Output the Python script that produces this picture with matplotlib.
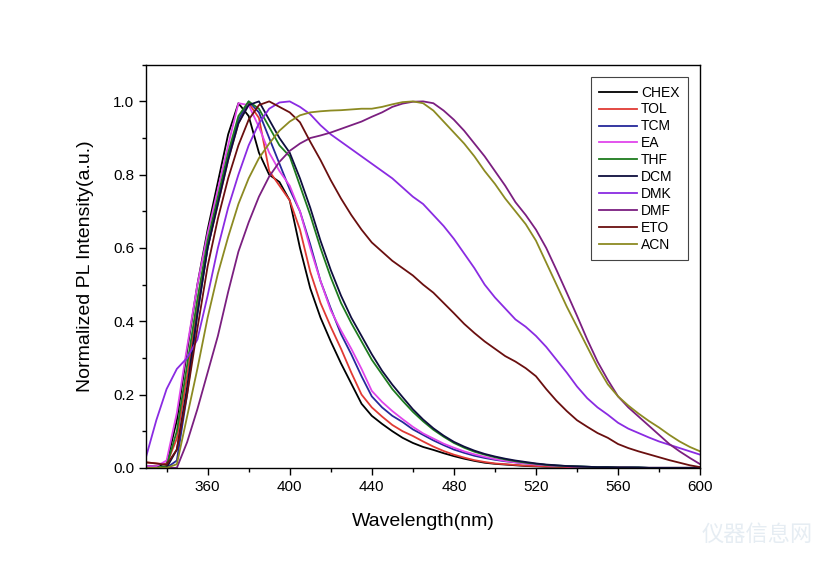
import numpy as np
import matplotlib.pyplot as plt
from matplotlib.ticker import MultipleLocator

# wavelength grid (nm), 5 nm steps
wavelength = list(range(330, 601, 5))

# normalized PL spectra, one list per solvent
chex = [0.005, 0.004, 0.012, 0.13, 0.32, 0.50, 0.65, 0.78, 0.91, 0.995, 0.96,
        0.86, 0.80, 0.78, 0.73, 0.60, 0.49, 0.41, 0.345, 0.285, 0.23, 0.175,
        0.142, 0.12, 0.10, 0.082, 0.068, 0.057, 0.049, 0.04, 0.032, 0.025, 0.019,
        0.014, 0.011, 0.009, 0.007, 0.005, 0.004, 0.003, 0.003, 0.002, 0.002, 0.001,
        0.001, 0.001, 0.001, 0.001, 0.0, 0.0, 0.0, 0.0, 0.0, 0.0, 0.0]
tol = [0.015, 0.012, 0.01, 0.08, 0.25, 0.44, 0.60, 0.72, 0.84, 0.94, 0.995,
       0.955, 0.81, 0.77, 0.73, 0.65, 0.535, 0.45, 0.385, 0.325, 0.26, 0.20,
       0.165, 0.14, 0.117, 0.10, 0.087, 0.072, 0.058, 0.046, 0.036, 0.028, 0.021,
       0.016, 0.012, 0.01, 0.008, 0.006, 0.005, 0.004, 0.003, 0.002, 0.002, 0.001,
       0.001, 0.001, 0.001, 0.0, 0.0, 0.0, 0.0, 0.0, 0.0, 0.0, 0.0]
tcm = [0.0, 0.0, 0.0, 0.02, 0.2, 0.42, 0.6, 0.73, 0.85, 0.95, 1.0,
       0.97, 0.9, 0.83, 0.76, 0.70, 0.61, 0.51, 0.435, 0.365, 0.31, 0.25,
       0.195, 0.165, 0.142, 0.125, 0.105, 0.09, 0.075, 0.062, 0.05, 0.041, 0.033,
       0.027, 0.022, 0.018, 0.015, 0.012, 0.01, 0.008, 0.006, 0.005, 0.004, 0.003,
       0.002, 0.002, 0.001, 0.001, 0.001, 0.0, 0.0, 0.0, 0.0, 0.0, 0.0]
ea = [0.005, 0.004, 0.02, 0.15, 0.33, 0.5, 0.64, 0.76, 0.88, 0.995, 0.99,
      0.93, 0.86, 0.81, 0.77, 0.70, 0.60, 0.51, 0.43, 0.375, 0.325, 0.27,
      0.21, 0.18, 0.155, 0.133, 0.112, 0.094, 0.08, 0.066, 0.055, 0.045, 0.037,
      0.03, 0.024, 0.019, 0.015, 0.012, 0.009, 0.007, 0.005, 0.004, 0.003, 0.002,
      0.002, 0.001, 0.001, 0.001, 0.0, 0.0, 0.0, 0.0, 0.0, 0.0, 0.0]
thf = [0.0, 0.0, 0.005, 0.1, 0.28, 0.46, 0.62, 0.74, 0.86, 0.96, 1.0,
       0.98, 0.93, 0.88, 0.85, 0.77, 0.69, 0.60, 0.52, 0.45, 0.395, 0.345,
       0.295, 0.255, 0.215, 0.183, 0.153, 0.127, 0.104, 0.085, 0.068, 0.055, 0.044,
       0.036, 0.029, 0.023, 0.018, 0.014, 0.011, 0.008, 0.006, 0.005, 0.004, 0.003,
       0.002, 0.002, 0.001, 0.001, 0.001, 0.0, 0.0, 0.0, 0.0, 0.0, 0.0]
dcm = [0.0, 0.0, 0.0, 0.05, 0.22, 0.42, 0.6, 0.72, 0.84, 0.94, 0.99,
       1.0, 0.95, 0.9, 0.86, 0.79, 0.71, 0.62, 0.54, 0.47, 0.41, 0.36,
       0.31, 0.265, 0.227, 0.193, 0.16, 0.132, 0.108, 0.088, 0.071, 0.058, 0.047,
       0.038, 0.031, 0.025, 0.02, 0.016, 0.012, 0.009, 0.007, 0.005, 0.004, 0.003,
       0.002, 0.002, 0.001, 0.001, 0.001, 0.0, 0.0, 0.0, 0.0, 0.0, 0.0]
dmk = [0.03, 0.13, 0.215, 0.27, 0.30, 0.35, 0.47, 0.60, 0.71, 0.80, 0.88,
       0.94, 0.98, 0.997, 1.0, 0.985, 0.965, 0.935, 0.91, 0.89, 0.87, 0.85,
       0.83, 0.81, 0.79, 0.765, 0.74, 0.72, 0.69, 0.66, 0.625, 0.585, 0.545,
       0.50, 0.465, 0.435, 0.405, 0.385, 0.36, 0.33, 0.295, 0.26, 0.222, 0.19,
       0.165, 0.145, 0.123, 0.107, 0.095, 0.083, 0.072, 0.063, 0.054, 0.045, 0.036]
dmf = [0.0, 0.0, 0.0, 0.0, 0.07, 0.16, 0.26, 0.36, 0.48, 0.59, 0.67,
       0.74, 0.795, 0.835, 0.865, 0.885, 0.9, 0.907, 0.915, 0.925, 0.935, 0.945,
       0.958, 0.97, 0.985, 0.994, 0.999, 1.0, 0.995, 0.975, 0.95, 0.92, 0.885,
       0.85, 0.81, 0.77, 0.725, 0.69, 0.65, 0.60, 0.54, 0.478, 0.415, 0.35,
       0.29, 0.24, 0.195, 0.165, 0.14, 0.115, 0.09, 0.065, 0.045, 0.027, 0.01]
eto = [0.015, 0.012, 0.008, 0.05, 0.2, 0.38, 0.55, 0.68, 0.79, 0.88, 0.95,
       0.99, 1.0, 0.985, 0.97, 0.943, 0.89, 0.84, 0.785, 0.735, 0.69, 0.65,
       0.615, 0.59, 0.565, 0.545, 0.525, 0.50, 0.478, 0.45, 0.422, 0.393, 0.368,
       0.345, 0.325, 0.305, 0.29, 0.272, 0.25, 0.215, 0.183, 0.155, 0.13, 0.112,
       0.095, 0.082, 0.065, 0.054, 0.045, 0.037, 0.029, 0.021, 0.014, 0.007, 0.002]
acn = [0.0, 0.0, 0.0, 0.01, 0.14, 0.27, 0.41, 0.53, 0.63, 0.72, 0.79,
       0.845, 0.885, 0.92, 0.945, 0.962, 0.97, 0.973, 0.975, 0.976, 0.978, 0.98,
       0.98, 0.985, 0.992, 0.998, 1.0, 0.995, 0.975, 0.945, 0.915, 0.885, 0.85,
       0.81, 0.775, 0.735, 0.70, 0.665, 0.62, 0.56, 0.50, 0.44, 0.385, 0.33,
       0.275, 0.228, 0.195, 0.17, 0.148, 0.128, 0.11, 0.09, 0.072, 0.057, 0.045]

labels = ["CHEX", "TOL", "TCM", "EA", "THF", "DCM", "DMK", "DMF", "ETO", "ACN"]
spectra = [chex, tol, tcm, ea, thf, dcm, dmk, dmf, eto, acn]
colors = ["#000000", "#e03a34", "#25289a", "#e045ec", "#1e7b1e",
          "#0e0e3e", "#8a2be2", "#7b1f80", "#6a0f0f", "#8c8a22"]

plt.rcParams["font.family"] = ["Liberation Sans", "DejaVu Sans"]

fig = plt.figure(figsize=(8.16, 5.63), dpi=100)
ax = fig.add_axes([0.179, 0.169, 0.679, 0.716])

for label, y, c in zip(labels, spectra, colors):
    ax.plot(wavelength, y, color=c, lw=1.3, label=label,
            solid_joinstyle="round")

ax.set_xlim(330, 600)
ax.set_ylim(0, 1.1)
ax.xaxis.set_minor_locator(MultipleLocator(20))
ax.set_xticks(np.arange(360, 601, 40))
ax.yaxis.set_major_locator(MultipleLocator(0.2))
ax.yaxis.set_minor_locator(MultipleLocator(0.1))
ax.yaxis.set_major_formatter(plt.FormatStrFormatter("%.1f"))
ax.tick_params(which="major", direction="out", length=5, width=1, labelsize=11)
ax.tick_params(which="minor", direction="out", length=3, width=1)
for s in ax.spines.values():
    s.set_linewidth(1.0)

ax.set_xlabel("Wavelength(nm)", fontsize=14, labelpad=14)
ax.set_ylabel("Normalized PL Intensity(a.u.)", fontsize=14, labelpad=14)

leg = ax.legend(loc="upper right", fontsize=10, handlelength=2.7,
                handletextpad=0.3, labelspacing=0.21, borderpad=0.6,
                borderaxespad=0.9, fancybox=False, framealpha=1)
leg.get_frame().set_edgecolor("#444444")
leg.get_frame().set_linewidth(0.8)

# faint site watermark in the corner
fig.text(0.86, 0.05, "仪器信息网", fontsize=16, color="#e6edf3",
         family=["Noto Sans CJK SC", "DejaVu Sans"], ha="left", va="center")

fig.savefig("out.png", dpi=100)
